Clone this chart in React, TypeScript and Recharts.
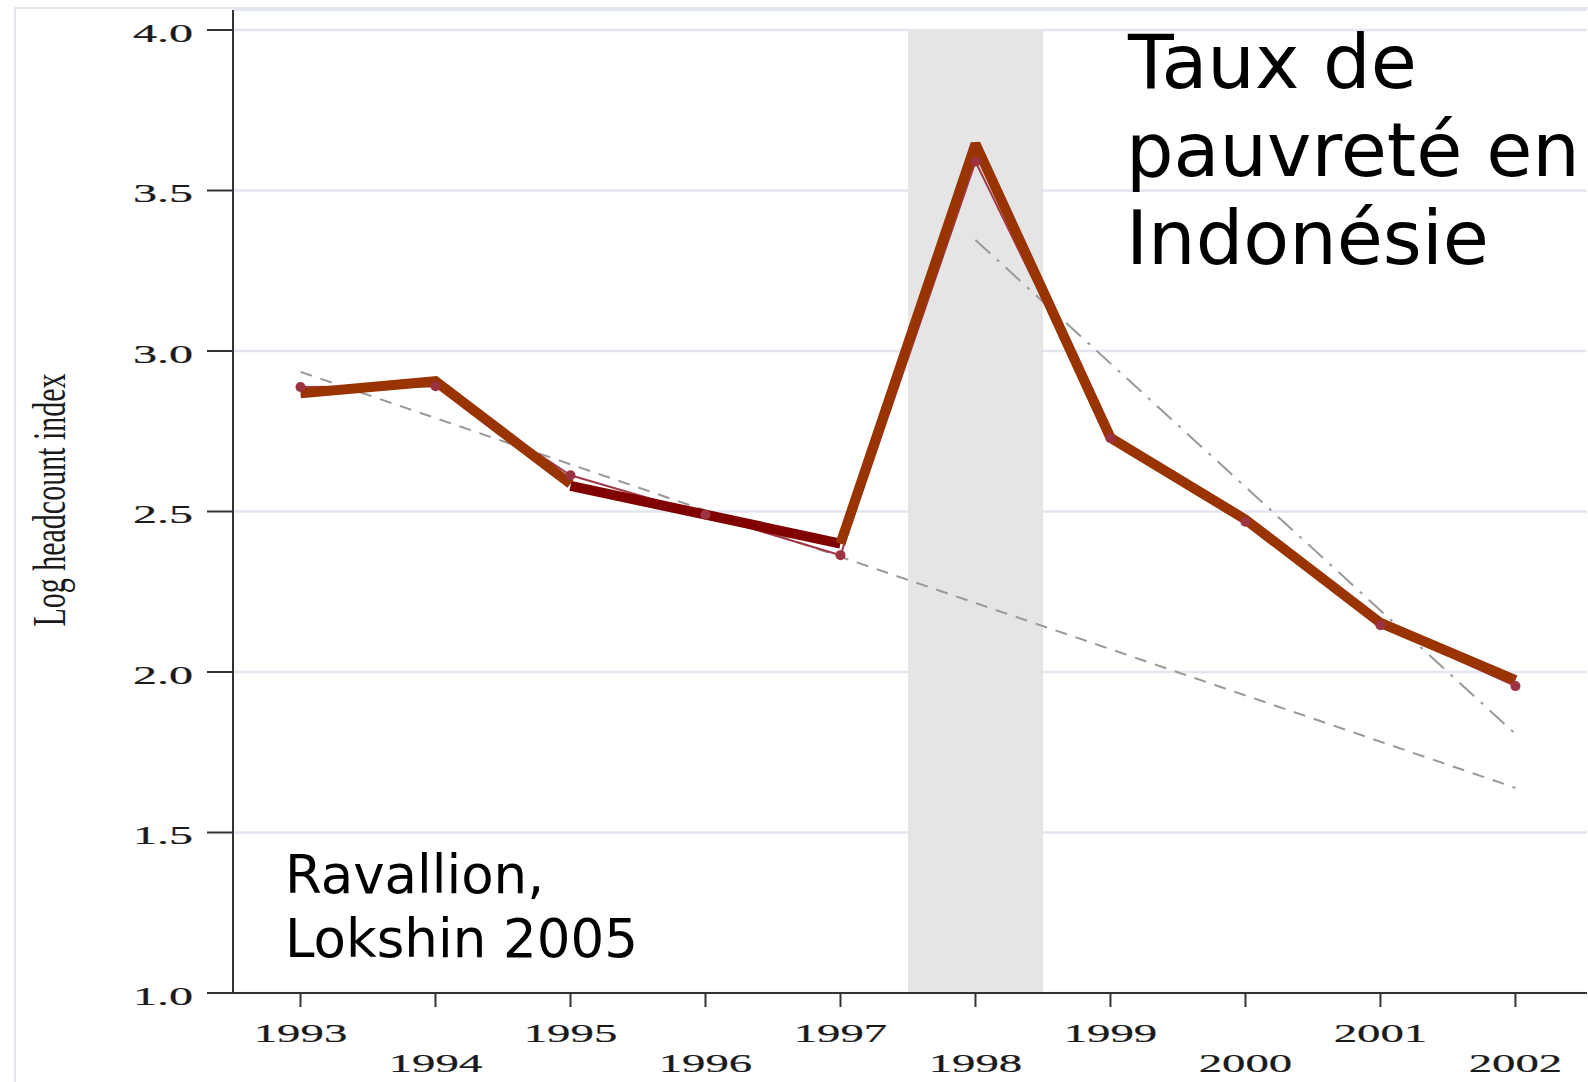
import React from "react"
import { LineChart, Line, XAxis, YAxis, CartesianGrid, ReferenceArea } from "recharts"

const years = [1993, 1994, 1995, 1996, 1997, 1998, 1999, 2000, 2001, 2002]
// thick line drawn over the figure (the 1995-1997 piece is darker)
const overlayBrown = [2.868, 2.906, 2.586, null, 2.4, 3.645, 2.73, 2.475, 2.153, 1.975]
const overlayDark = [null, null, 2.58, 2.49, 2.4, null, null, null, null, null]
// underlying estimates (small dots)
const headcount = [2.888, 2.89, 2.613, 2.49, 2.364, 3.59, 2.729, 2.468, 2.146, 1.956]
// trend lines: pre-crisis (dashed) and post-crisis (dash-dot)
const preTrend = [2.935, null, null, null, null, null, null, null, null, 1.639]
const postTrend = [null, null, null, null, null, 3.346, null, null, null, 1.807]
const yTicks = [1.0, 1.5, 2.0, 2.5, 3.0, 3.5, 4.0]
const crisisYears = [1997.5, 1998.5]

const data = years.map((year, i) => ({
  year,
  brown: overlayBrown[i],
  dark: overlayDark[i],
  headcount: headcount[i],
  pre: preTrend[i],
  post: postTrend[i],
}))

const serif = "'Liberation Serif', 'Times New Roman', serif"
const sans = "'DejaVu Sans', Verdana, sans-serif"

function XTick(props: any) {
  const { x, y, payload, index } = props
  const base = y + (index % 2 === 0 ? 33 : 63)
  return (
    <text
      transform={`translate(${x},${base}) scale(1.8,1)`}
      textAnchor="middle"
      fontFamily={serif}
      fontSize={26}
      fill="#1a1a1a"
      stroke="#1a1a1a"
      strokeWidth={0.2}
    >
      {payload.value}
    </text>
  )
}

function YTick(props: any) {
  const { y, payload } = props
  return (
    <text
      transform={`translate(193,${y + 12}) scale(1.85,1)`}
      textAnchor="end"
      fontFamily={serif}
      fontSize={26}
      fill="#1a1a1a"
      stroke="#1a1a1a"
      strokeWidth={0.2}
    >
      {payload.value.toFixed(1)}
    </text>
  )
}

function YLabel() {
  return (
    <text
      transform="translate(65,500) scale(1.55,1) rotate(-90)"
      textAnchor="middle"
      fontFamily={serif}
      fontSize={30}
      fill="#1a1a1a"
    >
      Log headcount index
    </text>
  )
}

export default function App() {
  return (
    <div style={{ position: "absolute", left: 0, top: 0, width: 1588, height: 1082, background: "#fff" }}>
      <div
        style={{
          position: "absolute",
          left: 14,
          top: 7,
          width: 1574,
          height: 1075,
          borderLeft: "2px solid #e3e6f0",
          borderTop: "2px solid #e3e6f0",
        }}
      />
      <LineChart
        width={1588}
        height={1082}
        data={data}
        margin={{ top: 10, right: 1, bottom: 9, left: 0 }}
        style={{ position: "absolute", left: 0, top: 0 }}
      >
        <CartesianGrid vertical={false} stroke="#e2e6f0" strokeWidth={2.5} />
        <ReferenceArea
          x1={crisisYears[0]}
          x2={crisisYears[1]}
          y1={1}
          y2={4}
          fill="#e5e5e5"
          fillOpacity={1}
          stroke="none"
        />
        <XAxis
          dataKey="year"
          type="number"
          domain={[1992.5, 2002.53]}
          ticks={years}
          interval={0}
          height={80}
          tickSize={14}
          axisLine={{ stroke: "#333", strokeWidth: 2 }}
          tickLine={{ stroke: "#333", strokeWidth: 2 }}
          tick={(p: any) => <XTick {...p} />}
        />
        <YAxis
          type="number"
          domain={[1, 4.0623]}
          ticks={yTicks}
          interval={0}
          width={233}
          tickSize={26}
          allowDataOverflow
          axisLine={{ stroke: "#333", strokeWidth: 2 }}
          tickLine={{ stroke: "#333", strokeWidth: 2 }}
          tick={(p: any) => <YTick {...p} />}
          label={<YLabel />}
        />
        <Line
          dataKey="pre"
          connectNulls
          stroke="#999"
          strokeWidth={2}
          strokeDasharray="12 9"
          dot={false}
          activeDot={false}
          isAnimationActive={false}
        />
        <Line
          dataKey="post"
          connectNulls
          stroke="#999"
          strokeWidth={2}
          strokeDasharray="20 9 3 9"
          dot={false}
          activeDot={false}
          isAnimationActive={false}
        />
        <Line
          dataKey="headcount"
          stroke="#a03848"
          strokeWidth={2}
          dot={{ r: 5, fill: "#9b3343", stroke: "none" }}
          activeDot={false}
          isAnimationActive={false}
        />
        <Line
          dataKey="dark"
          stroke="#800000"
          strokeWidth={10}
          strokeLinejoin="miter"
          strokeMiterlimit={2}
          dot={false}
          activeDot={false}
          isAnimationActive={false}
        />
        <Line
          dataKey="brown"
          stroke="#993300"
          strokeWidth={10}
          strokeLinejoin="miter"
          strokeMiterlimit={2}
          dot={false}
          activeDot={false}
          isAnimationActive={false}
        />
      </LineChart>
      <div
        style={{
          position: "absolute",
          left: 1126,
          top: 18,
          fontFamily: sans,
          fontSize: 75,
          lineHeight: "88px",
          color: "#000",
          whiteSpace: "nowrap",
        }}
      >
        <div style={{ paddingLeft: 2 }}>Taux de</div>
        <div>pauvreté en</div>
        <div>Indonésie</div>
      </div>
      <div
        style={{
          position: "absolute",
          left: 285,
          top: 843,
          fontFamily: sans,
          fontSize: 53,
          lineHeight: "64px",
          color: "#000",
          whiteSpace: "nowrap",
        }}
      >
        <div>Ravallion,</div>
        <div>Lokshin 2005</div>
      </div>
    </div>
  )
}
